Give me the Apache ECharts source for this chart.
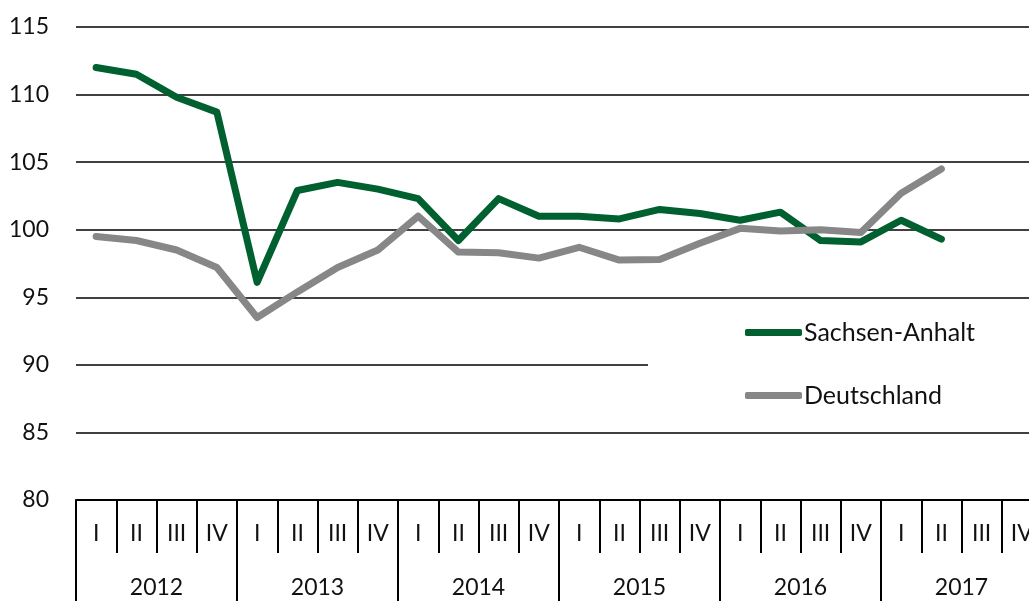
<!DOCTYPE html>
<html><head><meta charset="utf-8">
<script src="https://cdn.jsdelivr.net/npm/echarts@6/dist/echarts.min.js"></script>
<style>html,body{margin:0;padding:0;background:#fff}#c{width:1029px;height:601px}</style>
</head><body><div id="c"></div>
<script>
const quarters = ['I','II','III','IV','I','II','III','IV','I','II','III','IV','I','II','III','IV','I','II','III','IV','I','II','III','IV'];
const years = ['2012','2013','2014','2015','2016','2017'];
const sachsenAnhalt = [112.0,111.5,109.8,108.7, 96.1,102.9,103.5,103.0, 102.3,99.2,102.3,101.0, 101.0,100.8,101.5,101.2, 100.7,101.3,99.2,99.1, 100.7,99.3,null,null];
const deutschland = [99.5,99.2,98.5,97.2, 93.5,95.4,97.2,98.5, 101.0,98.35,98.3,97.9, 98.7,97.75,97.8,99.0, 100.1,99.9,100.0,99.8, 102.7,104.5,null,null];
const yTicks = {min:80, max:115, interval:5};

const font = 'Lato';
const chart = echarts.init(document.getElementById('c'));
chart.setOption({
  animation:false,
  backgroundColor:'#fff',
  textStyle:{fontFamily:font},
  grid:{left:76, right:-13, top:27, bottom:101, containLabel:false, outerBoundsMode:'none'},
  legend:{
    orient:'vertical', left:648, top:308,
    padding:[12,80,14,97],
    backgroundColor:'#fff',
    itemGap:38, itemWidth:57, itemHeight:7,
    icon:'roundRect',
    textStyle:{fontFamily:font, fontSize:25, color:'#111', padding:[0,0,0,-3]},
    data:['Sachsen-Anhalt','Deutschland']
  },
  xAxis:[{
    type:'category', data:quarters, boundaryGap:true, position:'bottom',
    axisLine:{show:true, lineStyle:{color:'#000', width:2}},
    axisTick:{show:true, interval:0, length:53, lineStyle:{color:'#000', width:2}},
    axisLabel:{interval:0, margin:22, fontSize:23, color:'#111', fontFamily:font, hideOverlap:false}
  },{
    type:'category', data:years, boundaryGap:true, position:'bottom',
    axisLine:{show:false},
    axisTick:{show:true, interval:0, length:110, lineStyle:{color:'#000', width:2}},
    axisLabel:{interval:0, margin:76, fontSize:23, color:'#111', fontFamily:font}
  }],
  yAxis:{
    type:'value', min:yTicks.min, max:yTicks.max, interval:yTicks.interval,
    axisLine:{show:false}, axisTick:{show:false},
    axisLabel:{margin:27, fontSize:23, color:'#111', fontFamily:font},
    splitLine:{show:true, lineStyle:{color:'#000', width:1.5}}
  },
  series:[{
    name:'Sachsen-Anhalt', type:'line', data:sachsenAnhalt, xAxisIndex:0,
    symbol:'none', lineStyle:{color:'#00602F', width:7, cap:'round', join:'round'},
    itemStyle:{color:'#00602F'}
  },{
    name:'Deutschland', type:'line', data:deutschland, xAxisIndex:0,
    symbol:'none', lineStyle:{color:'#878787', width:7, cap:'round', join:'round'},
    itemStyle:{color:'#878787'}
  }]
});
</script></body></html>
